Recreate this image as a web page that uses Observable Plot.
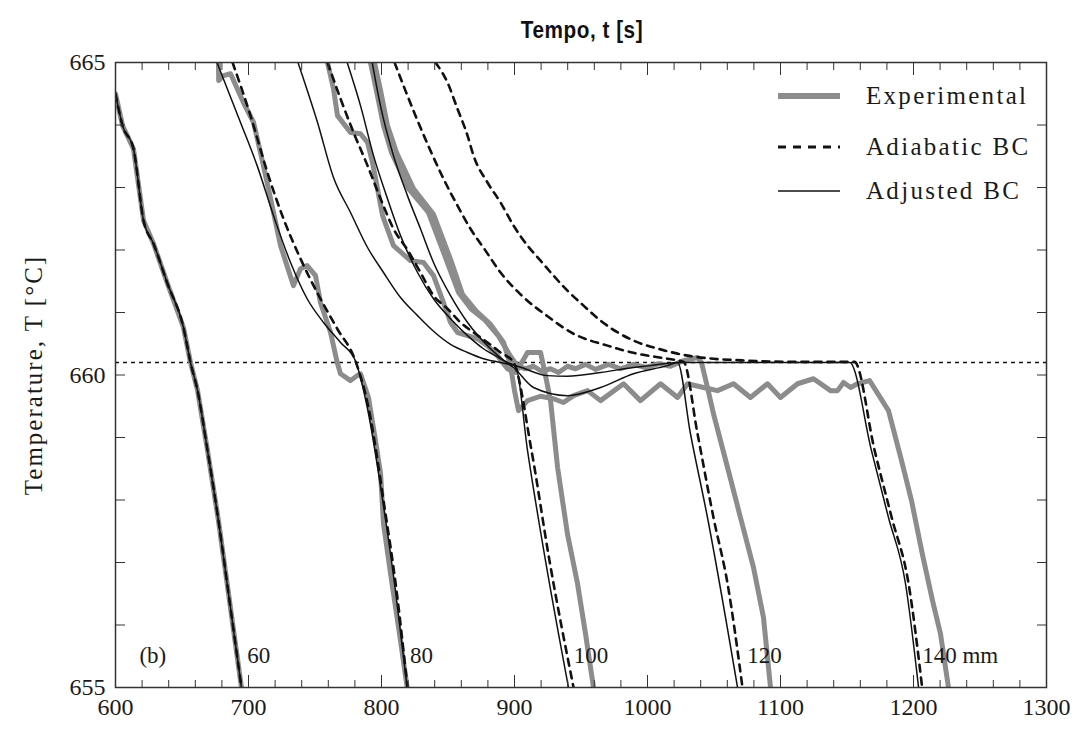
<!DOCTYPE html>
<html>
<head>
<meta charset="utf-8">
<script src="https://cdn.jsdelivr.net/npm/d3@7"></script>
<script src="https://cdn.jsdelivr.net/npm/@observablehq/plot@0.6"></script>
<style>
  body { margin: 0; background: #fff; }
  #wrap { position: relative; width: 1090px; height: 740px; overflow: hidden; background: #fff; }
  #title { position: absolute; left: 432px; width: 300px; top: 17px; text-align: center;
    font-family: "Liberation Sans", Arial, sans-serif;
    font-weight: bold; font-size: 23px; letter-spacing: 0.6px; color: #111; transform: scaleX(0.9); transform-origin: 150px 0; }
  .lg { position: absolute; left: 776px; height: 30px; display: flex; align-items: center;
    font-family: "Liberation Serif", "Times New Roman", serif; font-size: 25px; letter-spacing: 2.3px; color: #1a1a1a; }
  .lg svg { margin-right: 24px; }
</style>
</head>
<body>
<div id="wrap">
  <div id="chart"></div>
  <div id="title">Tempo, t [s]</div>
  <div class="lg" style="top:81px"><svg width="66" height="12"><line x1="2" y1="6" x2="64" y2="6" stroke="#8c8c8c" stroke-width="6"/></svg>Experimental</div>
  <div class="lg" style="top:132px"><svg width="66" height="12"><line x1="2" y1="6" x2="64" y2="6" stroke="#111" stroke-width="3" stroke-dasharray="8,7"/></svg>Adiabatic BC</div>
  <div class="lg" style="top:176px"><svg width="66" height="12"><line x1="2" y1="6" x2="64" y2="6" stroke="#111" stroke-width="1.6"/></svg>Adjusted BC</div>
</div>
<script>
// ---- data: [time s, temperature °C] ----
const liquidus = 660.2;

const curve60 = [[600,664.5],[605.3,663.99],[613.5,663.62],[621.1,662.47],[628.6,662.10],[639.1,661.46],[651.1,660.76],[656.4,660.20],[661.7,659.75],[669.2,658.79],[677.4,657.67],[685.7,656.39],[694.7,655.0]];

const exp80 = [[677.4,665],[677.6,664.71],[681.2,664.79],[686.5,664.82],[696.2,664.36],[703.8,664.04],[709.0,663.56],[715.0,662.98],[718.8,662.60],[724.1,662.07],[733.8,661.43],[739.1,661.70],[744.1,661.75],[750.4,661.59],[754.1,661.16],[761.7,660.68],[766.7,660.20],[769.2,660.02],[776.7,659.91],[781.7,659.99],[784.2,660.02],[790.2,659.64],[795.5,658.95],[799.3,658.42],[801.5,657.62],[806.8,656.82],[814.3,655.75],[819.3,655.0]];
const adj80 = [[676.3,665],[694.0,664.04],[706.5,663.35],[718.8,662.55],[731.6,661.80],[744.1,661.22],[756.4,660.84],[769.2,660.52],[780.5,660.22],[789.3,659.48],[801.7,657.88],[810.5,656.55],[819.3,655.0]];
const adi80 = [[688.0,665],[701.5,664.15],[714.1,663.25],[726.3,662.50],[739.1,661.86],[754.1,661.22],[766.7,660.74],[780.5,660.22],[790.2,659.48],[802.3,657.88],[811.3,656.55],[819.5,655.0]];

const exp100 = [[759.4,665],[763.9,664.58],[766.9,664.15],[776.7,663.88],[784.2,663.86],[789.5,663.72],[793.2,663.40],[797.0,662.98],[800.8,662.55],[809.0,662.07],[821.8,661.83],[831.6,661.80],[839.1,661.59],[846.6,661.16],[851.9,660.84],[857.2,660.68],[864.7,660.63],[872.2,660.58],[879.7,660.47],[887.2,660.31],[894.7,660.10],[900.8,660.04],[906.0,660.22],[909.8,660.36],[919.6,660.36],[923.3,659.99],[927.1,659.59],[932.4,658.52],[939.8,657.46],[947.4,656.66],[953.4,655.86],[959.4,655.0]];
const adj100 = [[793.0,665],[799.2,664.31],[809.0,663.51],[819.5,662.87],[829.3,662.34],[839.1,661.80],[851.9,661.27],[864.7,660.84],[879.7,660.47],[894.7,660.20],[900.8,660.15],[909.8,658.79],[923.3,657.03],[940.6,655.0]];
const adi100 = [[759.4,665],[769.2,664.42],[779.0,663.88],[789.5,663.35],[799.3,662.82],[809.0,662.34],[819.6,662.00],[829.3,661.64],[839.1,661.27],[849.6,661.06],[859.4,660.84],[869.2,660.68],[879.7,660.52],[889.5,660.36],[899.3,660.20],[912.8,658.79],[926.3,657.03],[944.4,655.0]];

const exp120 = [[791.7,665],[796.2,664.55],[801.5,663.99],[807.5,663.56],[820.3,662.98],[835.3,662.60],[848.1,661.88],[857.9,661.32],[867.7,661.05],[878.2,660.87],[888.0,660.62],[897.0,660.30],[902.3,660.14],[908.3,660.10],[914.3,660.14],[920.3,660.06],[927.1,660.10],[933.1,660.04],[939.8,660.14],[945.9,660.10],[953.4,660.17],[960.9,660.09],[970.7,660.17],[979.7,660.10],[989.5,660.17],[998.5,660.12],[1008.3,660.18],[1017.3,660.14],[1027.1,660.23],[1037.6,660.28],[1040.6,660.20],[1045.1,659.80],[1049.6,659.38],[1060.2,658.52],[1069.9,657.72],[1079.7,656.92],[1087.2,656.12],[1092.5,655.0]];
const adj120 = [[774.2,665],[784.2,664.31],[794.0,663.51],[804.5,662.82],[814.3,662.23],[827.1,661.64],[839.1,661.22],[851.9,660.90],[864.7,660.63],[876.7,660.42],[889.5,660.26],[899.3,660.12],[914.3,659.80],[939.8,659.67],[964.7,659.80],[989.5,660.02],[1015.0,660.15],[1022.6,660.20],[1032.3,659.06],[1045.1,657.72],[1067.7,655.0]];
const adi120 = [[809.8,665],[818.0,664.55],[827.1,664.07],[836.8,663.59],[846.6,663.14],[857.1,662.71],[866.9,662.34],[878.2,661.99],[889.5,661.64],[904.5,661.29],[924.8,660.94],[944.4,660.66],[969.9,660.47],[992.5,660.34],[1015.0,660.26],[1027.1,660.21],[1037.6,659.06],[1049.6,657.72],[1060.2,656.66],[1071.4,655.0]];

const exp140 = [[794.7,665],[799.3,664.55],[804.5,663.99],[811.3,663.56],[824.1,662.98],[839.1,662.57],[851.9,661.85],[860.9,661.29],[871.4,661.02],[882.0,660.81],[891.8,660.52],[897.0,660.15],[900.0,659.75],[903.0,659.43],[909.8,659.59],[919.6,659.66],[929.3,659.62],[936.8,659.56],[944.4,659.67],[954.9,659.75],[964.7,659.59],[982.0,659.86],[994.7,659.59],[1009.8,659.86],[1022.6,659.64],[1030.1,659.86],[1042.1,659.80],[1052.6,659.75],[1064.7,659.86],[1077.4,659.64],[1090.2,659.86],[1100.0,659.64],[1112.8,659.86],[1124.8,659.94],[1137.6,659.75],[1142.9,659.75],[1147.4,659.88],[1152.7,659.80],[1157.9,659.86],[1167.0,659.91],[1181.2,659.43],[1191.0,658.63],[1198.5,657.99],[1206.6,657.14],[1214.3,656.39],[1220.3,655.86],[1226.3,655.0]];
const adj140 = [[737.2,665],[751.9,664.04],[763.9,663.16],[776.7,662.60],[789.5,662.04],[801.5,661.64],[814.3,661.24],[827.1,660.95],[839.1,660.70],[851.9,660.49],[864.7,660.36],[876.7,660.26],[889.5,660.20],[902.3,660.14],[924.8,659.99],[939.8,659.98],[964.7,660.04],[989.5,660.12],[1002.3,660.15],[1022.6,660.20],[1152.0,660.20],[1168.4,658.79],[1181.2,657.72],[1194.0,656.66],[1203.8,655.0]];
const adi140 = [[840.6,665],[849.6,664.68],[857.1,664.26],[864.7,663.83],[869.2,663.51],[879.7,663.08],[889.5,662.76],[899.3,662.39],[909.8,662.07],[919.6,661.83],[929.3,661.59],[939.8,661.35],[951.9,661.11],[964.7,660.87],[989.5,660.55],[1009.8,660.41],[1030.1,660.31],[1049.6,660.26],[1075.2,660.23],[1107.5,660.21],[1155.6,660.21],[1170.8,658.79],[1183.6,657.72],[1196.3,656.66],[1206.5,655.0]];

const xMajor = [600, 700, 800, 900, 1000, 1100, 1200, 1300];
const xMinor = [620,640,660,680,720,740,760,780,820,840,860,880,920,940,960,980,1020,1040,1060,1080,1120,1140,1160,1180,1220,1240,1260,1280];
const yTicks = [655, 656, 657, 658, 659, 660, 661, 662, 663, 664, 665];
const yLabeled = [655, 660, 665];

const labelText = ["(b)", "60", "80", "100", "120", "140 mm"];
const labelTime = [618, 699, 821.5, 944.5, 1075, 1206.5];
const labelTemp = 655.4;

// ---- build tables ----
const series = [
  {pos: 60, kind: "exp", pts: curve60}, {pos: 60, kind: "adj", pts: curve60}, {pos: 60, kind: "adi", pts: curve60},
  {pos: 80, kind: "exp", pts: exp80}, {pos: 80, kind: "adj", pts: adj80}, {pos: 80, kind: "adi", pts: adi80},
  {pos: 100, kind: "exp", pts: exp100}, {pos: 100, kind: "adj", pts: adj100}, {pos: 100, kind: "adi", pts: adi100},
  {pos: 120, kind: "exp", pts: exp120}, {pos: 120, kind: "adj", pts: adj120}, {pos: 120, kind: "adi", pts: adi120},
  {pos: 140, kind: "exp", pts: exp140}, {pos: 140, kind: "adj", pts: adj140}, {pos: 140, kind: "adi", pts: adi140}
];
const rows = series.flatMap(s => s.pts.map(([t, T]) => ({t, T, pos: s.pos, kind: s.kind})));
const labels = labelText.map((text, i) => ({text, t: labelTime[i], T: labelTemp}));

const serif = "'Liberation Serif', 'Times New Roman', serif";
const axisFont = {fontFamily: serif, fontSize: 24, fill: "#1a1a1a"};

const chart = Plot.plot({
  width: 1090, height: 740,
  marginLeft: 115, marginRight: 44, marginTop: 62, marginBottom: 53,
  x: {domain: [600, 1300]},
  y: {domain: [655, 665]},
  style: {fontFamily: serif, fontSize: "24px", color: "#1a1a1a", background: "#fff"},
  marks: [
    Plot.ruleY([liquidus], {stroke: "#111", strokeWidth: 1.6, strokeDasharray: "4,4"}),
    Plot.line(rows.filter(d => d.kind === "exp"), {x: "t", y: "T", z: "pos", stroke: "#8c8c8c", strokeWidth: 5, curve: "linear", clip: true}),
    Plot.line(rows.filter(d => d.kind === "adj"), {x: "t", y: "T", z: "pos", stroke: "#111", strokeWidth: 1.5, curve: "monotone-x", clip: true}),
    Plot.line(rows.filter(d => d.kind === "adi"), {x: "t", y: "T", z: "pos", stroke: "#111", strokeWidth: 2.6, strokeDasharray: "7,6", curve: "monotone-x", clip: true}),
    Plot.frame({stroke: "#333", strokeWidth: 1.5}),
    Plot.axisX({ticks: xMajor, anchor: "bottom", tickSize: -12, tickPadding: 22, tickFormat: d => String(d), label: null, stroke: "#333", ...axisFont}),
    Plot.axisX({ticks: xMinor, anchor: "bottom", tickSize: -7, tickFormat: () => "", label: null, stroke: "#333"}),
    Plot.axisX({ticks: xMajor, anchor: "top", tickSize: -12, tickFormat: () => "", label: null, stroke: "#333"}),
    Plot.axisX({ticks: xMinor, anchor: "top", tickSize: -7, tickFormat: () => "", label: null, stroke: "#333"}),
    Plot.axisY({ticks: yTicks, anchor: "left", tickSize: -10, tickPadding: 20, tickFormat: d => yLabeled.includes(d) ? String(d) : "", label: null, stroke: "#333", ...axisFont}),
    Plot.axisY({ticks: yTicks, anchor: "right", tickSize: -10, tickFormat: () => "", label: null, stroke: "#333"}),
    Plot.text(["Temperature, T [°C]"], {frameAnchor: "left", textAnchor: "middle", rotate: -90, dx: -82, fontSize: 25, fontFamily: serif, fill: "#1a1a1a"}),
    Plot.text(labels, {x: "t", y: "T", text: "text", textAnchor: "start", lineAnchor: "bottom", fontSize: 23, fontFamily: serif, fill: "#1a1a1a"})
  ]
});
d3.select(chart).selectAll("text").filter(function() { return this.textContent === "Temperature, T [°C]"; }).style("letter-spacing", "2px");
document.getElementById("chart").appendChild(chart);
</script>
</body>
</html>
